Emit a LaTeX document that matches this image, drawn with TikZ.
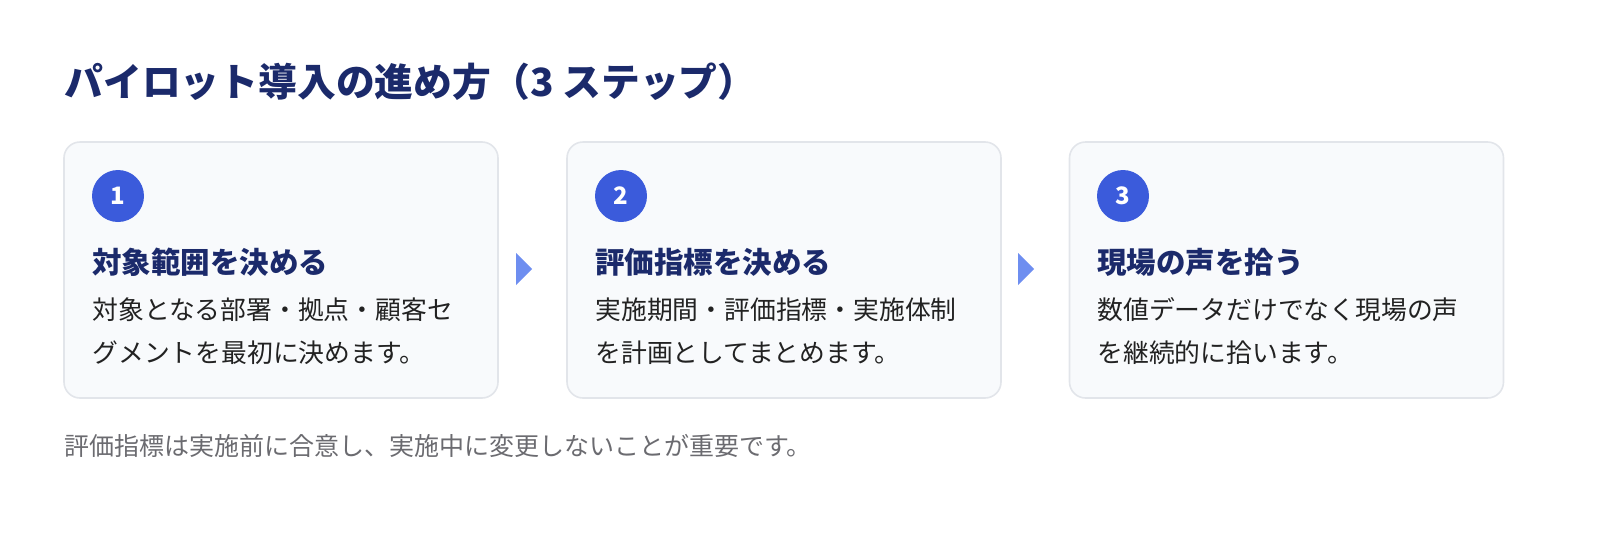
\documentclass[tikz,border=0pt]{standalone}
\usepackage{fontspec}
\setmainfont{Noto Sans CJK JP}
\definecolor{navy}{HTML}{1B2A6B}
\definecolor{stepblue}{HTML}{3B5BDB}
\definecolor{arrowblue}{HTML}{6E8EF0}
\definecolor{cardfill}{HTML}{F8FAFC}
\definecolor{cardline}{HTML}{E2E5EA}
\definecolor{bodytext}{HTML}{222222}
\definecolor{notetext}{HTML}{6B6B70}
\begin{document}
\begin{tikzpicture}[x=0.5pt,y=-0.5pt,
    card/.style={rectangle,rounded corners=8pt,draw=cardline,line width=0.8pt,fill=cardfill,minimum width=217pt,minimum height=128pt},
    num/.style={circle,fill=stepblue,text=white,minimum size=26pt,inner sep=0pt,font=\bfseries\fontsize{12}{14}\selectfont},
    head/.style={anchor=west,inner sep=0pt,text=navy,font=\bfseries\fontsize{14.75}{17}\selectfont},
    body/.style={anchor=west,inner sep=0pt,align=left,text=bodytext,font=\fontsize{12.9}{21.5}\selectfont}]
    \useasboundingbox (0,0) rectangle (1600,536);
    \node (T) at (64,82)[anchor=west,inner sep=0pt,text=navy,font=\bfseries\fontsize{19.4}{22}\selectfont]{パイロット導入の進め方（3 ステップ）};

    \node (C1) at (281,270)[card]{};
    \node (N1) at (118,196)[num]{1};
    \node (H1) at (92,262)[head]{対象範囲を決める};
    \node (B1) at (92,331)[body]{対象となる部署・拠点・顧客セ\\グメントを最初に決めます。};

    \node (C2) at (784,270)[card]{};
    \node (N2) at (621,196)[num]{2};
    \node (H2) at (595,262)[head]{評価指標を決める};
    \node (B2) at (595,331)[body]{実施期間・評価指標・実施体制\\を計画としてまとめます。};

    \node (C3) at (1286.5,270)[card]{};
    \node (N3) at (1123,196)[num]{3};
    \node (H3) at (1097,262)[head]{現場の声を拾う};
    \node (B3) at (1097,331)[body]{数値データだけでなく現場の声\\を継続的に拾います。};

    \fill [arrowblue] (516,253) -- (532,269) -- (516,285) -- cycle;
    \fill [arrowblue] (1018,253) -- (1034,269) -- (1018,285) -- cycle;

    \node (F) at (64,446)[anchor=west,inner sep=0pt,text=notetext,font=\fontsize{12.5}{15}\selectfont]{評価指標は実施前に合意し、実施中に変更しないことが重要です。};
\end{tikzpicture}
\end{document}
